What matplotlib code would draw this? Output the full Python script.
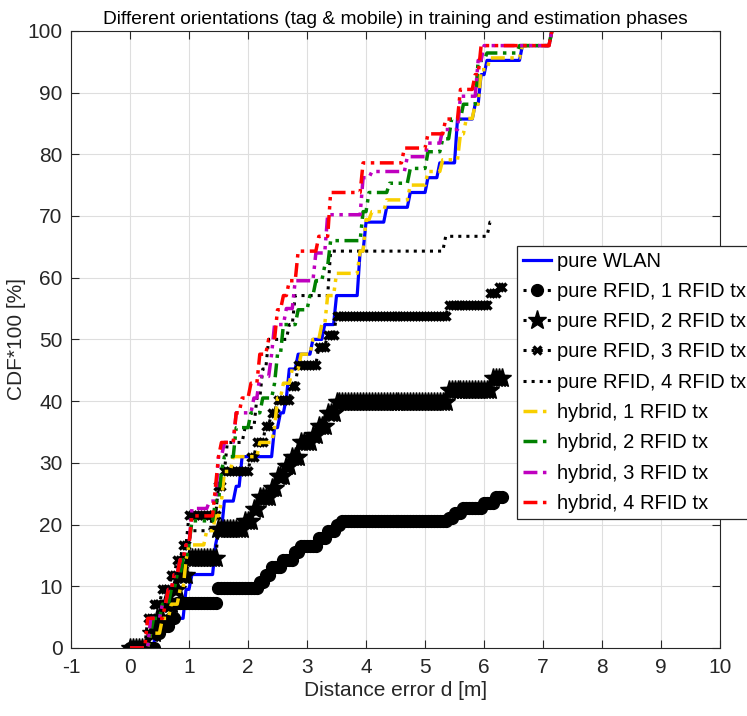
import numpy as np
import matplotlib
matplotlib.use("Agg")
import matplotlib.pyplot as plt

# step points of each CDF: distance [m] where the CDF jumps, and the level [%] after the jump
wlan_x = [0.0, 0.42, 0.95, 1.05, 1.45, 1.5, 1.58, 1.8, 1.86, 2.42, 2.55, 2.62, 2.7, 2.85, 3.1, 3.3, 3.47, 3.88, 3.97, 4.35, 4.75, 5.05, 5.23, 5.53, 5.85, 5.95, 6.05, 6.62, 7.12]
wlan_y = [0, 4.8, 9.5, 11.9, 16.7, 19.0, 23.8, 26.2, 31.0, 35.7, 38.1, 40.5, 45.2, 47.6, 50.0, 52.4, 57.1, 64.3, 69.0, 71.4, 73.8, 76.2, 78.6, 85.7, 88.1, 92.9, 95.2, 97.6, 100]
wlan_end = 7.15

rfid1_x = [0.0, 0.45, 0.55, 0.7, 0.78, 1.47, 2.2, 2.3, 2.4, 2.6, 2.8, 2.9, 3.2, 3.35, 3.5, 3.6, 5.37, 5.5, 5.65, 5.99, 6.2]
rfid1_y = [0, 2.4, 3.6, 4.8, 7.3, 9.7, 10.7, 11.9, 13.1, 14.3, 15.5, 16.5, 17.9, 19.0, 20.0, 20.6, 21.1, 21.8, 22.6, 23.5, 24.4]
rfid1_end = 6.3

rfid2_x = [0.0, 0.35, 0.45, 0.6, 0.75, 0.85, 1.0, 1.5, 1.95, 2.1, 2.2, 2.4, 2.5, 2.65, 2.75, 2.9, 3.1, 3.2, 3.35, 3.5, 5.37, 6.15]
rfid2_y = [0, 2.4, 4.8, 7.1, 9.5, 11.9, 14.5, 19.2, 20.5, 22.5, 24.5, 26.0, 27.8, 29.5, 31.0, 33.3, 34.5, 35.9, 38.1, 39.9, 41.8, 43.7]
rfid2_end = 6.33

rfid3_x = [0.0, 0.3, 0.4, 0.55, 0.7, 0.8, 0.9, 0.98, 1.5, 1.6, 2.05, 2.15, 2.3, 2.4, 2.5, 2.75, 2.82, 3.2, 3.35, 3.5, 5.37, 6.1, 6.25]
rfid3_y = [0, 4.8, 7.1, 9.5, 11.9, 14.3, 16.7, 21.5, 26.2, 28.6, 31.0, 33.3, 36.0, 38.1, 40.2, 42.5, 45.9, 48.8, 50.7, 53.8, 55.6, 57.5, 58.5]
rfid3_end = 6.3

rfid4_x = [0.0, 0.35, 0.45, 0.55, 0.7, 0.85, 0.95, 1.0, 1.4, 1.5, 1.6, 1.65, 1.95, 2.15, 2.25, 2.35, 2.7, 2.8, 3.4, 5.35, 6.1]
rfid4_y = [0, 2.4, 4.8, 7.1, 11.9, 14.3, 16.7, 19.0, 21.4, 26.2, 28.6, 33.3, 35.7, 40.5, 45.2, 50.0, 52.4, 57.1, 64.3, 66.7, 69.0]
rfid4_end = 6.15

hyb1_x = [0.0, 0.35, 0.55, 0.7, 0.85, 0.95, 1.0, 1.3, 1.45, 1.52, 1.6, 1.75, 2.2, 2.42, 2.5, 2.6, 2.72, 2.88, 3.1, 3.22, 3.35, 3.5, 3.88, 4.0, 4.07, 4.35, 4.73, 5.05, 5.28, 5.6, 5.68, 5.85, 5.95, 6.1, 6.62, 7.12]
hyb1_y = [0, 2.4, 4.8, 7.1, 9.5, 14.3, 16.7, 19.0, 21.4, 23.8, 28.6, 31.0, 33.3, 35.7, 40.5, 42.9, 45.2, 47.6, 50.0, 52.4, 57.1, 60.7, 64.3, 69.4, 70.7, 72.6, 75.0, 77.2, 79.1, 83.3, 85.8, 88.1, 93.7, 95.6, 97.6, 100]

hyb2_x = [0.0, 0.32, 0.38, 0.55, 0.68, 0.8, 0.9, 0.98, 1.05, 1.45, 1.52, 1.6, 1.8, 2.05, 2.25, 2.42, 2.5, 2.6, 2.85, 3.05, 3.12, 3.3, 3.4, 3.95, 4.05, 4.4, 4.73, 5.05, 5.3, 5.45, 5.65, 5.9, 6.02, 6.6, 7.12]
hyb2_y = [0, 2.4, 4.8, 7.1, 9.5, 11.9, 14.3, 16.7, 20.6, 23.8, 28.6, 31.0, 35.7, 38.1, 40.5, 42.9, 47.6, 52.4, 54.8, 57.1, 59.5, 61.9, 66.0, 70.7, 73.8, 75.3, 77.7, 80.4, 82.5, 85.7, 88.1, 95.2, 96.4, 97.6, 100]

hyb3_x = [0.0, 0.33, 0.55, 0.62, 0.72, 0.83, 0.92, 1.02, 1.35, 1.5, 1.6, 1.78, 2.1, 2.2, 2.4, 2.45, 2.62, 2.8, 3.15, 3.35, 3.95, 4.1, 4.7, 5.05, 5.3, 5.6, 5.88, 6.0, 7.12]
hyb3_y = [0, 4.8, 7.1, 9.5, 11.9, 14.3, 16.7, 22.6, 23.8, 31.0, 33.3, 38.1, 40.5, 44.0, 47.6, 52.4, 55.0, 59.5, 64.0, 70.2, 76.2, 77.2, 79.6, 81.8, 84.0, 89.4, 95.2, 97.6, 100]

hyb4_x = [0.0, 0.3, 0.6, 0.65, 0.75, 0.85, 0.95, 1.02, 1.45, 1.5, 1.55, 1.8, 1.88, 2.05, 2.2, 2.35, 2.5, 2.6, 2.7, 2.82, 3.18, 3.38, 3.92, 4.65, 5.05, 5.35, 5.6, 5.85, 5.92, 7.12]
hyb4_y = [0, 4.8, 7.1, 9.5, 11.9, 14.3, 16.7, 21.4, 26.2, 31.0, 33.3, 38.1, 40.5, 42.9, 47.6, 50.0, 54.8, 57.1, 59.5, 64.3, 66.7, 73.8, 78.6, 81.0, 83.3, 85.7, 90.5, 92.9, 97.6, 100]
hyb_end = 7.15

labels = ["pure WLAN", "pure RFID, 1 RFID tx", "pure RFID, 2 RFID tx",
          "pure RFID, 3 RFID tx", "pure RFID, 4 RFID tx", "hybrid, 1 RFID tx",
          "hybrid, 2 RFID tx", "hybrid, 3 RFID tx", "hybrid, 4 RFID tx"]

step = 0.05


def on_grid(sx, sy, end):
    d = np.arange(0, end + 1e-9, step)
    idx = np.searchsorted(np.array(sx), d + 1e-9, side="right") - 1
    return d, np.array(sy)[np.clip(idx, 0, None)]


plt.rcParams["font.family"] = ["Liberation Sans", "DejaVu Sans"]
plt.rcParams["axes.unicode_minus"] = False

fig = plt.figure(figsize=(7.47, 7.16), dpi=100)
ax = fig.add_axes([0.095, 0.095, 0.869, 0.862])

dd = (4, 1.6, 1.0, 1.6, 1.0, 1.6)
curves = [
    (wlan_x, wlan_y, wlan_end, dict(color="#0000FF", lw=2.3, ls="-")),
    (rfid1_x, rfid1_y, rfid1_end, dict(color="k", lw=2.2, ls=":", marker="o", ms=8.5)),
    (rfid2_x, rfid2_y, rfid2_end, dict(color="k", lw=2.2, ls=":", marker="*", ms=14)),
    (rfid3_x, rfid3_y, rfid3_end, dict(color="k", lw=2.2, ls=":", marker="x", ms=6, mew=2.5)),
    (rfid4_x, rfid4_y, rfid4_end, dict(color="k", lw=2.2, ls=":")),
    (hyb1_x, hyb1_y, hyb_end, dict(color="#F8CF00", lw=2.5, dashes=dd)),
    (hyb2_x, hyb2_y, hyb_end, dict(color="#008000", lw=2.5, dashes=dd)),
    (hyb3_x, hyb3_y, hyb_end, dict(color="#BF00BF", lw=2.5, dashes=dd)),
    (hyb4_x, hyb4_y, hyb_end, dict(color="#FF0000", lw=2.5, dashes=dd)),
]

handles = []
for (sx, sy, end, style), lab in zip(curves, labels):
    d, c = on_grid(sx, sy, end)
    h, = ax.plot(d, c, label=lab, **style)
    handles.append(h)

ax.set_xlim(-1, 10)
ax.set_ylim(0, 100)
ax.set_xticks(range(-1, 11))
ax.set_yticks(range(0, 101, 10))
ax.grid(True, color="0.87", lw=0.8)
ax.set_axisbelow(True)
ax.tick_params(direction="in", top=True, right=True, length=6, labelsize=15, colors="0.15")
ax.tick_params(axis="y", pad=6)
ax.tick_params(axis="x", pad=7)
for s in ax.spines.values():
    s.set_color("0.15")

ax.set_xlabel("Distance error d [m]", fontsize=15, color="0.15", labelpad=3)
ax.set_ylabel("CDF*100 [%]", fontsize=15, color="0.15", labelpad=1)
ax.set_title("Different orientations (tag & mobile) in training and estimation phases", fontsize=13.8, pad=5)

leg = fig.legend(handles=handles, loc="upper left", bbox_to_anchor=(0.692, 0.657),
                 prop={"size": 14.5}, borderaxespad=0,
                 handlelength=1.4, handletextpad=0.28, labelspacing=0.56,
                 borderpad=0.3, fancybox=False, framealpha=1, edgecolor="0.15")
leg.get_frame().set_linewidth(0.9)

fig.savefig("out.png", dpi=100)
